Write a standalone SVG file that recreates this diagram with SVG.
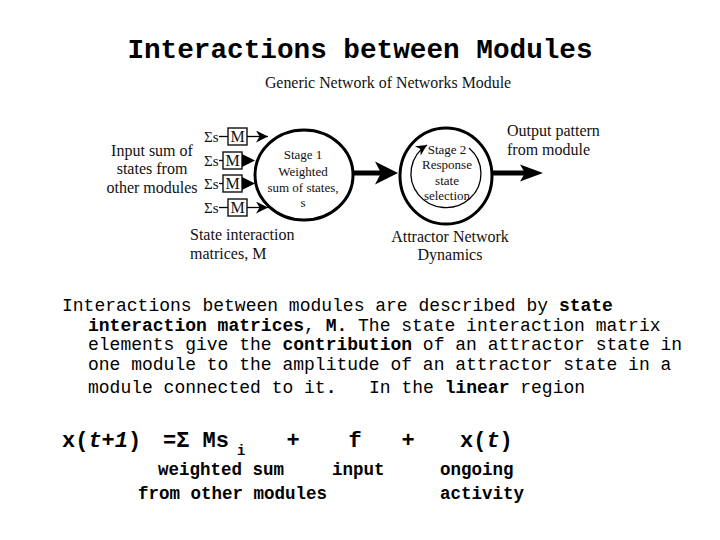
<svg xmlns="http://www.w3.org/2000/svg" width="720" height="540" viewBox="0 0 720 540">
<style>
.ser{font-family:"Liberation Serif","Times New Roman",serif;fill:#111}
.lab{font-size:16px}
.cir{font-size:13px}
.mono{font-family:"Liberation Mono","Courier New",monospace;fill:#000}
.para{font-size:18px}
.b{font-weight:bold}
.it{font-style:italic}
.eq{font-size:22px;font-weight:bold}
.eql{font-size:17.5px;font-weight:bold}
.node{fill:none;stroke:#000;stroke-width:3}
.box{fill:#fff;stroke:#111;stroke-width:1.4}
.thin{fill:none;stroke:#000;stroke-width:1.3}
.thick{fill:none;stroke:#000;stroke-width:5}
</style>
<defs>
<marker id="ah" markerUnits="userSpaceOnUse" markerWidth="12" markerHeight="12" refX="10" refY="5" orient="auto" viewBox="0 0 10 10">
<path d="M0,0 L10,5 L0,10 L3,5 Z" fill="#000"/>
</marker>
<marker id="ah2" markerUnits="userSpaceOnUse" markerWidth="11" markerHeight="11" refX="10" refY="5" orient="auto" viewBox="0 0 10 10">
<path d="M0,0 L10,5 L0,10 L3,5 Z" fill="#000"/>
</marker>
</defs>
<rect width="720" height="540" fill="#fff"/>

<text x="360" y="58" text-anchor="middle" class="mono b" font-size="27.7">Interactions between Modules</text>

<g id="diagram-title">
<text x="388" y="88" text-anchor="middle" class="ser" font-size="15.9">Generic Network of Networks Module</text>
</g>

<g id="input-label">
<text class="ser lab" text-anchor="middle"><tspan x="152" y="156">Input sum of</tspan><tspan x="152" y="174">states from</tspan><tspan x="152" y="193">other modules</tspan></text>
</g>

<g id="matrices">
<g id="m1"><text x="204" y="142" class="ser" font-size="15">Σs</text><rect x="228" y="128" width="19" height="17" class="box"/><text x="237.5" y="142" text-anchor="middle" class="ser" font-size="16">M</text></g>
<g id="m2"><text x="204" y="166" class="ser" font-size="15">Σs</text><rect x="223" y="152" width="19" height="17" class="box"/><text x="232.5" y="166" text-anchor="middle" class="ser" font-size="16">M</text></g>
<g id="m3"><text x="204" y="189" class="ser" font-size="15">Σs</text><rect x="223" y="175" width="19" height="17" class="box"/><text x="232.5" y="189" text-anchor="middle" class="ser" font-size="16">M</text></g>
<g id="m4"><text x="204" y="213" class="ser" font-size="15">Σs</text><rect x="228" y="199" width="19" height="17" class="box"/><text x="237.5" y="213" text-anchor="middle" class="ser" font-size="16">M</text></g>
<text class="ser lab"><tspan x="190" y="240">State interaction</tspan><tspan x="190" y="259">matrices, M</tspan></text>
</g>

<g id="stage1">
<ellipse cx="304" cy="175" rx="49" ry="45" class="node"/>
<text class="ser cir" text-anchor="middle"><tspan x="303" y="159">Stage 1</tspan><tspan x="303" y="176">Weighted</tspan><tspan x="303" y="192">sum of states,</tspan><tspan x="303" y="207">s</tspan></text>
</g>

<g id="stage2">
<ellipse cx="446" cy="176" rx="46" ry="48" class="node"/>
<path d="M469,148 A35 34 0 1 1 427,145" class="thin" marker-end="url(#ah2)"/>
<text class="ser cir" text-anchor="middle"><tspan x="447" y="154">Stage 2</tspan><tspan x="447" y="169">Response</tspan><tspan x="447" y="185">state</tspan><tspan x="447" y="200">selection</tspan></text>
<text class="ser lab" text-anchor="middle"><tspan x="450" y="242">Attractor Network</tspan><tspan x="450" y="260">Dynamics</tspan></text>
</g>

<g id="output-label">
<text class="ser lab"><tspan x="507" y="136">Output pattern</tspan><tspan x="507" y="155">from module</tspan></text>
</g>

<g id="connectors">
<line x1="219" y1="136.5" x2="228" y2="136.5" class="thin"/>
<line x1="219" y1="207.5" x2="228" y2="207.5" class="thin"/>
<line x1="219" y1="160.5" x2="223" y2="160.5" class="thin"/>
<line x1="219" y1="183.5" x2="223" y2="183.5" class="thin"/>
<line x1="247" y1="136.5" x2="268" y2="136.5" class="thin" marker-end="url(#ah)"/>
<line x1="247" y1="207.5" x2="268" y2="207.5" class="thin" marker-end="url(#ah)"/>
<polygon points="242,154 255,160.5 242,167" fill="#000"/>
<polygon points="242,177 255,183.5 242,190" fill="#000"/>
<line x1="353" y1="173" x2="384" y2="173" class="thick"/>
<polygon points="398,173 375,161.5 381,173 375,184.5" fill="#000"/>
<line x1="491" y1="173" x2="526" y2="173" class="thick"/>
<polygon points="543,173 520,164.5 525,173 520,181.5" fill="#000"/>
</g>

<g id="paragraph" class="mono para">
<text x="62" y="311">Interactions between modules are described by <tspan class="b">state</tspan></text>
<text x="88" y="331"><tspan class="b">interaction matrices</tspan>, <tspan class="b">M.</tspan> The state interaction matrix</text>
<text x="88" y="350">elements give the <tspan class="b">contribution</tspan> of an attractor state in</text>
<text x="88" y="370">one module to the amplitude of an attractor state in a</text>
<text x="88" y="393">module connected to it<tspan class="b">.</tspan><tspan x="369">In the </tspan><tspan class="b">linear</tspan> region</text>
</g>

<g id="equation" class="mono">
<text x="62" y="447" class="eq">x(<tspan class="it">t+1</tspan>)</text>
<text x="163" y="447" class="eq">=Σ Ms</text>
<text x="237" y="455" class="mono b" font-size="14">i</text>
<text x="293" y="447" class="eq" text-anchor="middle">+</text>
<text x="355" y="447" class="eq" text-anchor="middle">f</text>
<text x="408" y="447" class="eq" text-anchor="middle">+</text>
<text x="460" y="447" class="eq">x(<tspan class="it">t</tspan>)</text>
<text x="158" y="475" class="eql">weighted sum</text>
<text x="332" y="475" class="eql">input</text>
<text x="440" y="475" class="eql">ongoing</text>
<text x="138" y="499" class="eql">from other modules</text>
<text x="440" y="499" class="eql">activity</text>
</g>
</svg>
